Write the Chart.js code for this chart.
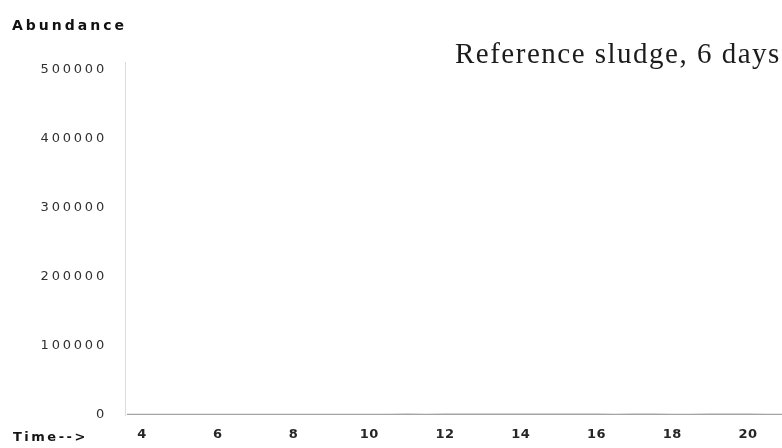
<!DOCTYPE html>
<html>
<head>
<meta charset="utf-8">
<title>Reference sludge, 6 days</title>
<script src="https://cdn.jsdelivr.net/npm/chart.js@4/dist/chart.umd.min.js"></script>
<style>
  html, body { margin: 0; padding: 0; background: #ffffff; }
  #wrap { position: relative; width: 782px; height: 448px; }
  #chart { filter: blur(0.7px); }
</style>
</head>
<body>
<div id="wrap"><canvas id="chart"></canvas></div>
<script>
// Retention time (min) and total ion abundance along the run
const times = [3.6, 4.0, 4.5, 5.0, 5.5, 6.0, 6.5, 7.0, 7.5, 8.0, 8.5, 9.0, 9.5, 10.0,
  10.5, 11.0, 11.5, 12.0, 12.5, 13.0, 13.5, 14.0, 14.5, 15.0, 15.5, 16.0, 16.5,
  17.0, 17.5, 18.0, 18.5, 19.0, 19.5, 20.0, 20.5, 20.9];
const abundance = [200, 150, 200, 150, 200, 250, 200, 150, 250, 200, 200,
  250, 200, 200, 250, 300, 250, 300, 350, 300, 300, 350, 300, 300,
  350, 300, 250, 300, 300, 250, 250, 300, 300, 300, 250, 250];

// Axis tick values
const xTicks = [4, 6, 8, 10, 12, 14, 16, 18, 20];
const yTicks = [0, 100000, 200000, 300000, 400000, 500000];

// Free-standing labels
const yAxisLabel = 'Abundance';
const xAxisLabel = 'Time-->';
const sampleTitle = 'Reference sludge, 6 days';

const labelsPlugin = {
  id: 'chromLabels',
  beforeDraw(chart) {
    // wide, tracked lettering for the abundance tick labels
    chart.ctx.letterSpacing = '2.8px';
  },
  afterDatasetsDraw(chart) {
    // time tick labels (drawn on the upper layer) use tighter spacing
    chart.ctx.letterSpacing = '0.5px';
  },
  afterDraw(chart) {
    const ctx = chart.ctx;
    ctx.save();
    ctx.textBaseline = 'alphabetic';
    ctx.textAlign = 'left';

    ctx.letterSpacing = '3px';
    ctx.fillStyle = '#111111';
    ctx.font = 'bold 14px "DejaVu Sans"';
    ctx.fillText(yAxisLabel, 12, 30);

    ctx.letterSpacing = '2.5px';
    ctx.fillStyle = '#151515';
    ctx.font = 'bold 13px "DejaVu Sans"';
    ctx.fillText(xAxisLabel, 13, 441);

    ctx.letterSpacing = '1.5px';
    ctx.fillStyle = '#1c1c1c';
    ctx.font = '29px "Liberation Serif"';
    ctx.fillText(sampleTitle, 455, 63);
    ctx.letterSpacing = '0px';
    ctx.restore();
  }
};

new Chart(document.getElementById('chart'), {
  type: 'line',
  data: {
    datasets: [{
      data: times.map((t, i) => ({ x: t, y: abundance[i] })),
      borderColor: '#a4a4a4',
      borderWidth: 2.4,
      pointRadius: 0,
      tension: 0,
      fill: false
    }]
  },
  options: {
    responsive: true,
    maintainAspectRatio: false,
    animation: false,
    layout: { padding: { top: 62, left: 0, right: 0, bottom: 0 } },
    plugins: {
      legend: { display: false },
      tooltip: { enabled: false },
      title: { display: false }
    },
    scales: {
      x: {
        type: 'linear',
        min: 3.551,
        max: 20.898,
        afterBuildTicks(scale) { scale.ticks = xTicks.map(v => ({ value: v })); },
        afterFit(scale) { scale.height = 33; },
        grid: { display: false, drawTicks: false },
        border: { display: false },
        ticks: {
          z: 1,
          padding: 12,
          autoSkip: false,
          maxRotation: 0,
          color: '#262626',
          font: { family: 'DejaVu Sans', size: 13, weight: 'bold' },
          callback: v => String(v)
        }
      },
      y: {
        type: 'linear',
        min: 0,
        max: 511600,
        afterBuildTicks(scale) { scale.ticks = yTicks.map(v => ({ value: v })); },
        afterFit(scale) { scale.width = 125; },
        grid: { display: false, drawTicks: false },
        border: { display: true, color: '#dcdcdc', width: 1, dash: [1, 4] },
        ticks: {
          padding: 18,
          color: '#303030',
          font: { family: 'DejaVu Sans', size: 13 },
          callback: v => String(v)
        }
      }
    }
  },
  plugins: [labelsPlugin]
});
</script>
</body>
</html>
